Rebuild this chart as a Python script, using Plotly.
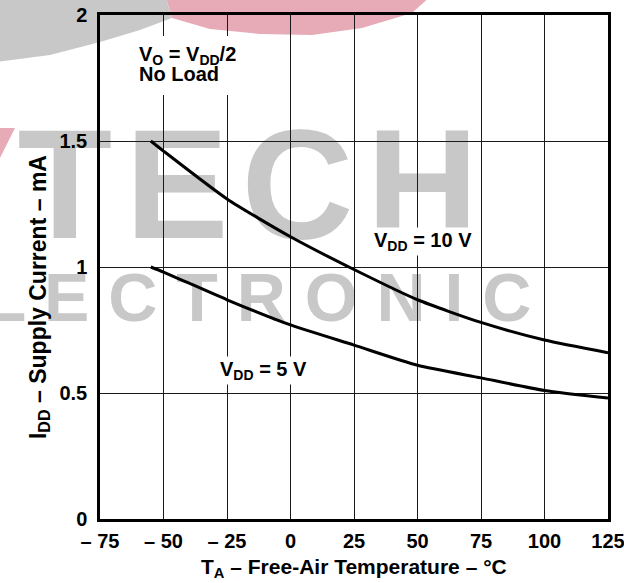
"""Supply current vs free-air temperature (VDD = 5 V / 10 V), datasheet style."""

import plotly.graph_objects as go

# ---- data ----
temp_c = [-55, -50, -25, 0, 25, 50, 75, 100, 125]
idd_10v = [1.50, 1.46, 1.27, 1.12, 0.99, 0.87, 0.78, 0.71, 0.66]
idd_5v = [1.00, 0.98, 0.87, 0.77, 0.69, 0.61, 0.56, 0.51, 0.48]

x_ticks = [-75, -50, -25, 0, 25, 50, 75, 100, 125]
x_ticktext = ["– 75", "– 50", "– 25", "0", "25", "50", "75", "100", "125"]
y_ticks = [0, 0.5, 1, 1.5, 2]
y_ticktext = ["0", "0.5", "1", "1.5", "2"]

W, H = 624, 583
L, R, T, B = 100, 16, 15, 64
FONT = "Liberation Sans, Arial, sans-serif"
WM_GRAY = "#c8c8c8"
PINK = "#e7aab7"


def paper(px, py):
    """pixel position in the page -> paper coords (for watermark decoration)"""
    return (px - L) / (W - L - R), (H - B - py) / (H - T - B)


def poly(points):
    pts = [paper(*p) for p in points]
    return "M " + " L ".join(f"{x:.4f},{y:.4f}" for x, y in pts) + " Z"


def bold(size):
    return dict(family=FONT, size=size, color="black", weight="bold")


fig = go.Figure()

for name, vals in (("VDD = 10 V", idd_10v), ("VDD = 5 V", idd_5v)):
    fig.add_trace(go.Scatter(
        x=temp_c, y=vals, mode="lines", name=name,
        line=dict(color="black", width=3, shape="spline", smoothing=0.6),
        showlegend=False, hoverinfo="x+y",
    ))

# watermark (logo ring + lettering), kept below the grid
shapes = [
    dict(type="path", xref="paper", yref="paper", layer="below", line_width=0,
         fillcolor=PINK,
         path=poly([(165, -5), (172, 18), (210, 29), (260, 34), (312, 35),
                    (362, 28), (412, 13), (432, -5)])),
    dict(type="path", xref="paper", yref="paper", layer="below", line_width=0,
         fillcolor=WM_GRAY,
         path=poly([(-5, -5), (-5, 62), (50, 55), (100, 42), (140, 30),
                    (172, 18), (165, -5)])),
    dict(type="path", xref="paper", yref="paper", layer="below", line_width=0,
         fillcolor=PINK,
         path=poly([(-5, 128), (15, 128), (-5, 168)])),
]
for text, (x0, y0, x1, y1), size in (
    ("T\u200aE\u200aC\u200aH", (0, 114, 496, 225), 155),
    ("E L E C T R O N I C", (-100, 266, 552, 315), 68),
):
    px0, py0 = paper(x0, y1)
    px1, py1 = paper(x1, y0)
    shapes.append(dict(
        type="rect", xref="paper", yref="paper", layer="below",
        x0=px0, y0=py0, x1=px1, y1=py1, line_width=0,
        label=dict(text=f"<b>{text}</b>", textposition="middle center",
                   font=dict(family=FONT, size=size, color=WM_GRAY)),
    ))

# white box behind the two-line condition note (hides grid like the original)
bx0, by0 = paper(133, 95)
bx1, by1 = paper(262, 36)
shapes.append(dict(type="rect", xref="paper", yref="paper", layer="above",
                   x0=bx0, y0=by0, x1=bx1, y1=by1, line_width=0,
                   fillcolor="white"))

annotations = [
    dict(x=-60.5, y=1.898, xref="x", yref="y", xanchor="left", yanchor="top",
         text="V<sub>O</sub> = V<sub>DD</sub>/2", showarrow=False,
         font=bold(20)),
    dict(x=-60.5, y=1.818, xref="x", yref="y", xanchor="left", yanchor="top",
         text="No Load", showarrow=False, font=bold(20)),
    dict(x=52, y=1.10, xref="x", yref="y", text="V<sub>DD</sub> = 10 V",
         showarrow=False, bgcolor="white", borderpad=1, font=bold(20)),
    dict(x=-10.5, y=0.59, xref="x", yref="y", text="V<sub>DD</sub> = 5 V",
         showarrow=False, bgcolor="white", borderpad=1, font=bold(20)),
    dict(x=-0.153, y=0.44, xref="paper", yref="paper", textangle=-90,
         text="I<sub>DD</sub> – Supply Current – mA", showarrow=False,
         font=bold(23)),
    dict(x=0.5, y=-0.097, xref="paper", yref="paper", yanchor="middle",
         text="T<sub>A</sub> – Free-Air Temperature – °C", showarrow=False,
         font=bold(21)),
]

axis_common = dict(
    showline=True, mirror=True, linecolor="black", linewidth=2.5,
    showgrid=True, gridcolor="#1a1a1a", gridwidth=1,
    zeroline=False, ticks="", fixedrange=True, automargin=False,
    ticklabeloverflow="allow", tickfont=bold(20),
)

fig.update_layout(
    width=W, height=H,
    margin=dict(l=L, r=R, t=T, b=B),
    paper_bgcolor="white", plot_bgcolor="rgba(0,0,0,0)",
    xaxis=dict(range=[-75, 125], tickvals=x_ticks, ticktext=x_ticktext,
               ticklabelstandoff=2, **axis_common),
    yaxis=dict(range=[0, 2], tickvals=y_ticks, ticktext=y_ticktext,
               ticklabelstandoff=6, **axis_common),
    shapes=shapes,
    annotations=annotations,
)

# the page's default 8px body margin would shift the figure out of the window
fig.write_html("out.html", config={"displayModeBar": False},
               post_script="document.body.style.margin='0px';")
